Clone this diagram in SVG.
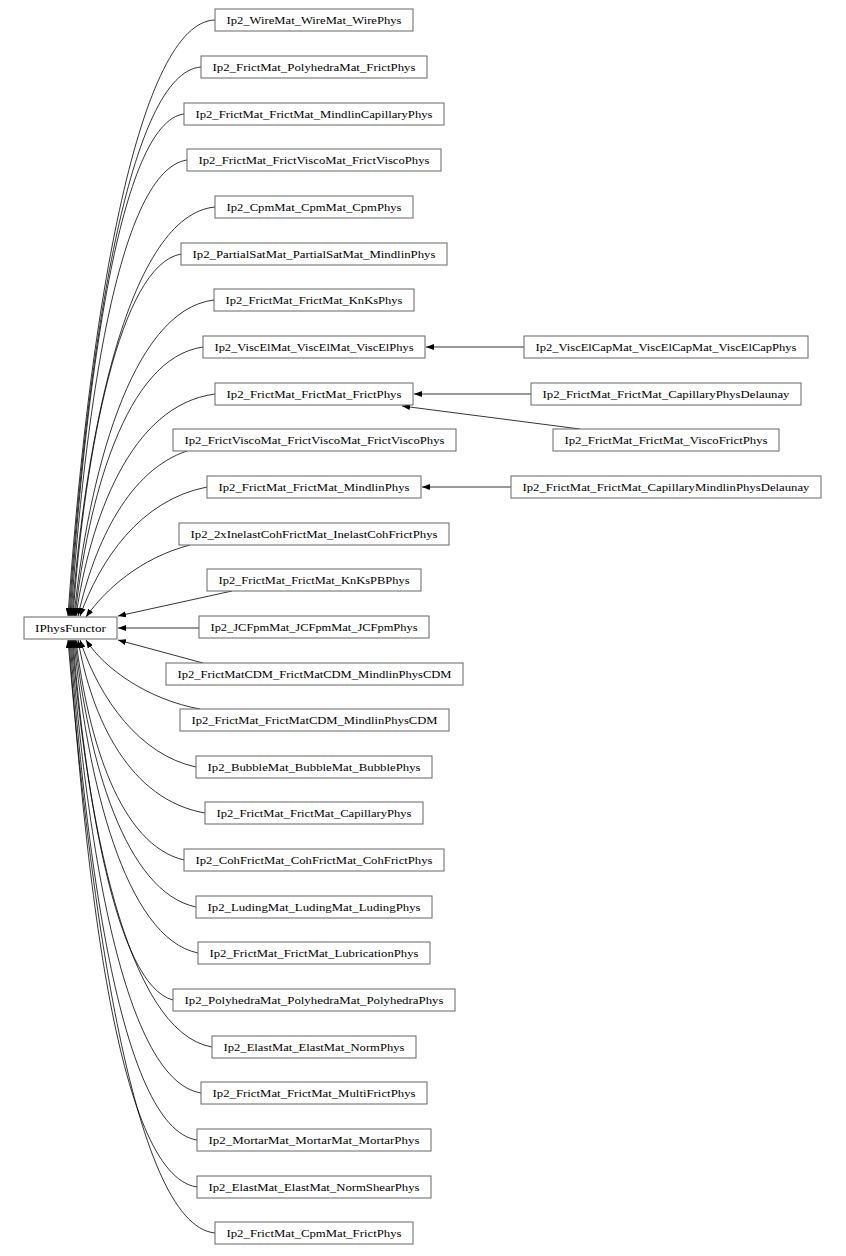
<svg xmlns="http://www.w3.org/2000/svg" width="846" height="1256" viewBox="0 0 846 1256">
<style>
rect{fill:#fff;stroke:#666;stroke-width:1}
text{font-family:"Liberation Serif","DejaVu Serif",serif;font-size:11px;text-anchor:middle;fill:#000}
#edges path{fill:none;stroke:#000;stroke-width:0.8;marker-end:url(#a)}
</style>
<defs><marker id="a" markerWidth="8" markerHeight="6" refX="8" refY="3" orient="auto" markerUnits="userSpaceOnUse"><path d="M0,0 L8,3 L0,6 z" fill="#000"/></marker></defs>
<rect x="0" y="0" width="846" height="1256" style="fill:#fff;stroke:none"/>
<g id="edges">
<path d="M215,20 C140,22 90,300 68,616"/>
<path d="M201,67 C130,72 88,340 69,616"/>
<path d="M184,114 C120,122 86,380 70,616"/>
<path d="M187,160 C120,170 86,400 71,616"/>
<path d="M215,207 C130,215 86,430 72,616"/>
<path d="M181,254 C120,265 85,450 73,616"/>
<path d="M214,300 C130,310 88,480 74,616"/>
<path d="M203,347 C125,358 88,500 75,616"/>
<path d="M215,394 C130,405 90,520 76,616"/>
<path d="M187,451 C130,470 95,540 78,616"/>
<path d="M207,487 C140,500 100,560 80,616"/>
<path d="M190,545 C140,558 105,590 86,617"/>
<path d="M232,591 L118,616"/>
<path d="M199,628 L118,628"/>
<path d="M203,663 L118,640"/>
<path d="M200,709 C150,700 105,670 86,640"/>
<path d="M196,767 C140,755 100,700 80,640"/>
<path d="M205,813 C130,800 92,720 78,640"/>
<path d="M184,860 C120,845 88,740 76,640"/>
<path d="M196,907 C125,892 88,760 75,640"/>
<path d="M198,953 C125,938 87,780 74,640"/>
<path d="M173,1000 C115,985 85,790 73,640"/>
<path d="M212,1047 C125,1032 86,810 72,640"/>
<path d="M201,1093 C120,1080 85,820 71,640"/>
<path d="M197,1140 C118,1128 85,840 70,640"/>
<path d="M197,1187 C115,1175 85,860 69,640"/>
<path d="M215,1233 C130,1225 88,880 68,640"/>
<path d="M524,347 L426,347"/>
<path d="M531,394 L414,394"/>
<path d="M580,429 L402,406"/>
<path d="M511,487 L422,487"/>
</g>
<g id="IPhysFunctor"><rect x="24" y="617" width="93" height="22"/><text x="70.5" y="631.5" textLength="71" lengthAdjust="spacingAndGlyphs">IPhysFunctor</text></g>
<g id="n0"><rect x="215" y="9" width="198" height="22"/><text x="314" y="23.5" textLength="175" lengthAdjust="spacingAndGlyphs">Ip2_WireMat_WireMat_WirePhys</text></g>
<g id="n1"><rect x="201" y="56" width="226" height="22"/><text x="314" y="70.5" textLength="203" lengthAdjust="spacingAndGlyphs">Ip2_FrictMat_PolyhedraMat_FrictPhys</text></g>
<g id="n2"><rect x="184" y="103" width="260" height="22"/><text x="314" y="117.5" textLength="237" lengthAdjust="spacingAndGlyphs">Ip2_FrictMat_FrictMat_MindlinCapillaryPhys</text></g>
<g id="n3"><rect x="187" y="149" width="254" height="22"/><text x="314" y="163.5" textLength="231" lengthAdjust="spacingAndGlyphs">Ip2_FrictMat_FrictViscoMat_FrictViscoPhys</text></g>
<g id="n4"><rect x="215" y="196" width="198" height="22"/><text x="314" y="210.5" textLength="175" lengthAdjust="spacingAndGlyphs">Ip2_CpmMat_CpmMat_CpmPhys</text></g>
<g id="n5"><rect x="181" y="243" width="266" height="22"/><text x="314" y="257.5" textLength="243" lengthAdjust="spacingAndGlyphs">Ip2_PartialSatMat_PartialSatMat_MindlinPhys</text></g>
<g id="n6"><rect x="214" y="289" width="200" height="22"/><text x="314" y="303.5" textLength="177" lengthAdjust="spacingAndGlyphs">Ip2_FrictMat_FrictMat_KnKsPhys</text></g>
<g id="n7"><rect x="203" y="336" width="222" height="22"/><text x="314" y="350.5" textLength="199" lengthAdjust="spacingAndGlyphs">Ip2_ViscElMat_ViscElMat_ViscElPhys</text></g>
<g id="n8"><rect x="215" y="383" width="198" height="22"/><text x="314" y="397.5" textLength="175" lengthAdjust="spacingAndGlyphs">Ip2_FrictMat_FrictMat_FrictPhys</text></g>
<g id="n9"><rect x="173" y="429" width="283" height="22"/><text x="314.5" y="443.5" textLength="260" lengthAdjust="spacingAndGlyphs">Ip2_FrictViscoMat_FrictViscoMat_FrictViscoPhys</text></g>
<g id="n10"><rect x="207" y="476" width="214" height="22"/><text x="314" y="490.5" textLength="191" lengthAdjust="spacingAndGlyphs">Ip2_FrictMat_FrictMat_MindlinPhys</text></g>
<g id="n11"><rect x="179" y="523" width="270" height="22"/><text x="314" y="537.5" textLength="247" lengthAdjust="spacingAndGlyphs">Ip2_2xInelastCohFrictMat_InelastCohFrictPhys</text></g>
<g id="n12"><rect x="207" y="569" width="214" height="22"/><text x="314" y="583.5" textLength="191" lengthAdjust="spacingAndGlyphs">Ip2_FrictMat_FrictMat_KnKsPBPhys</text></g>
<g id="n13"><rect x="199" y="616" width="230" height="22"/><text x="314" y="630.5" textLength="207" lengthAdjust="spacingAndGlyphs">Ip2_JCFpmMat_JCFpmMat_JCFpmPhys</text></g>
<g id="n14"><rect x="166" y="663" width="297" height="22"/><text x="314.5" y="677.5" textLength="274" lengthAdjust="spacingAndGlyphs">Ip2_FrictMatCDM_FrictMatCDM_MindlinPhysCDM</text></g>
<g id="n15"><rect x="180" y="709" width="269" height="22"/><text x="314.5" y="723.5" textLength="246" lengthAdjust="spacingAndGlyphs">Ip2_FrictMat_FrictMatCDM_MindlinPhysCDM</text></g>
<g id="n16"><rect x="196" y="756" width="236" height="22"/><text x="314" y="770.5" textLength="213" lengthAdjust="spacingAndGlyphs">Ip2_BubbleMat_BubbleMat_BubblePhys</text></g>
<g id="n17"><rect x="205" y="802" width="218" height="22"/><text x="314" y="816.5" textLength="195" lengthAdjust="spacingAndGlyphs">Ip2_FrictMat_FrictMat_CapillaryPhys</text></g>
<g id="n18"><rect x="184" y="849" width="260" height="22"/><text x="314" y="863.5" textLength="237" lengthAdjust="spacingAndGlyphs">Ip2_CohFrictMat_CohFrictMat_CohFrictPhys</text></g>
<g id="n19"><rect x="196" y="896" width="236" height="22"/><text x="314" y="910.5" textLength="213" lengthAdjust="spacingAndGlyphs">Ip2_LudingMat_LudingMat_LudingPhys</text></g>
<g id="n20"><rect x="198" y="942" width="232" height="22"/><text x="314" y="956.5" textLength="209" lengthAdjust="spacingAndGlyphs">Ip2_FrictMat_FrictMat_LubricationPhys</text></g>
<g id="n21"><rect x="173" y="989" width="282" height="22"/><text x="314" y="1003.5" textLength="259" lengthAdjust="spacingAndGlyphs">Ip2_PolyhedraMat_PolyhedraMat_PolyhedraPhys</text></g>
<g id="n22"><rect x="212" y="1036" width="204" height="22"/><text x="314" y="1050.5" textLength="181" lengthAdjust="spacingAndGlyphs">Ip2_ElastMat_ElastMat_NormPhys</text></g>
<g id="n23"><rect x="201" y="1082" width="226" height="22"/><text x="314" y="1096.5" textLength="203" lengthAdjust="spacingAndGlyphs">Ip2_FrictMat_FrictMat_MultiFrictPhys</text></g>
<g id="n24"><rect x="197" y="1129" width="234" height="22"/><text x="314" y="1143.5" textLength="211" lengthAdjust="spacingAndGlyphs">Ip2_MortarMat_MortarMat_MortarPhys</text></g>
<g id="n25"><rect x="197" y="1176" width="234" height="22"/><text x="314" y="1190.5" textLength="211" lengthAdjust="spacingAndGlyphs">Ip2_ElastMat_ElastMat_NormShearPhys</text></g>
<g id="n26"><rect x="215" y="1222" width="198" height="22"/><text x="314" y="1236.5" textLength="175" lengthAdjust="spacingAndGlyphs">Ip2_FrictMat_CpmMat_FrictPhys</text></g>
<g id="r0"><rect x="524" y="336" width="284" height="22"/><text x="666" y="350.5" textLength="261" lengthAdjust="spacingAndGlyphs">Ip2_ViscElCapMat_ViscElCapMat_ViscElCapPhys</text></g>
<g id="r1"><rect x="531" y="383" width="270" height="22"/><text x="666" y="397.5" textLength="247" lengthAdjust="spacingAndGlyphs">Ip2_FrictMat_FrictMat_CapillaryPhysDelaunay</text></g>
<g id="r2"><rect x="553" y="429" width="226" height="22"/><text x="666" y="443.5" textLength="203" lengthAdjust="spacingAndGlyphs">Ip2_FrictMat_FrictMat_ViscoFrictPhys</text></g>
<g id="r3"><rect x="511" y="476" width="310" height="22"/><text x="666" y="490.5" textLength="287" lengthAdjust="spacingAndGlyphs">Ip2_FrictMat_FrictMat_CapillaryMindlinPhysDelaunay</text></g>
</svg>
